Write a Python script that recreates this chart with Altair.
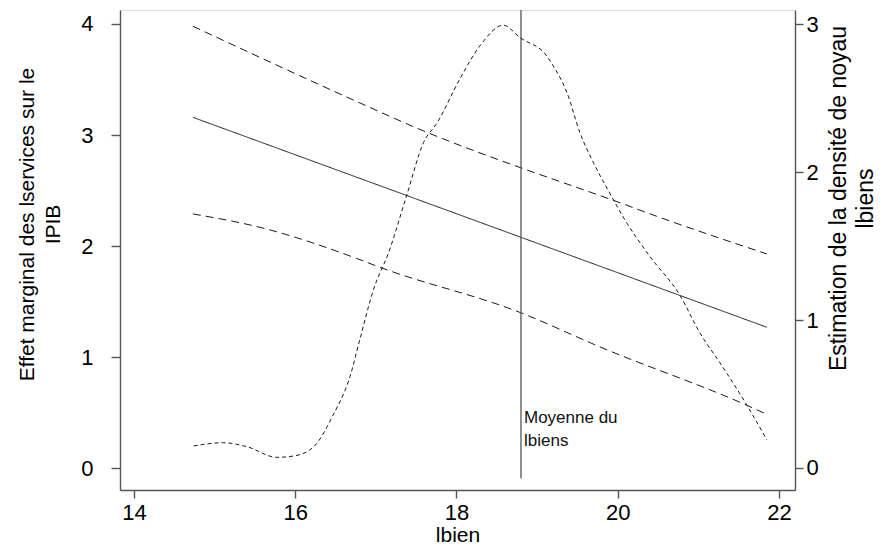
import altair as alt
import pandas as pd

# ---- data ----
fit_x = [14.73, 21.85]
fit_y = [3.16, 1.27]

upper_x = [14.73, 15.56, 16.80, 17.55, 18.80, 19.29, 19.94, 20.48, 21.85]
upper_y = [3.98, 3.70, 3.29, 3.05, 2.705, 2.58, 2.414, 2.27, 1.93]

lower_x = [14.73, 15.56, 16.76, 17.05, 18.80, 19.78, 21.60, 21.85]
lower_y = [2.29, 2.17, 1.89, 1.81, 1.40, 1.093, 0.568, 0.486]

dens_x = [14.74, 15.11, 15.40, 15.77, 15.98, 16.23, 16.47, 16.68, 16.80, 16.97,
          17.16, 17.38, 17.59, 17.76, 18.04, 18.29, 18.58, 18.79, 19.12, 19.20,
          19.37, 19.53, 19.70, 19.90, 20.11, 20.40, 20.77, 21.02, 21.27, 21.60, 21.85]
dens_y = [0.149, 0.171, 0.144, 0.072, 0.081, 0.144, 0.359, 0.62, 0.867, 1.206,
          1.46, 1.84, 2.20, 2.335, 2.63, 2.855, 2.995, 2.91, 2.787, 2.72,
          2.54, 2.27, 2.064, 1.86, 1.66, 1.43, 1.17, 0.913, 0.71, 0.427, 0.19]

mean_x = 18.8
mean_label = "Moyenne du\nlbiens"
mean_label_y = 0.405
vline_y = [-0.09, 4.126]

x_ticks = [14, 16, 18, 20, 22]
left_ticks = [0, 1, 2, 3, 4]
right_ticks = [0, 1, 2, 3]

NB = "\u00a0"
left_title = ["Effet marginal des lservices sur le", "IPIB" + NB * 5]
right_title = ["Estimation de la densité de noyau", "lbiens" + NB * 13]

# ---- tables ----
lines_df = pd.concat([
    pd.DataFrame({"x": fit_x, "y": fit_y, "series": "fit"}),
    pd.DataFrame({"x": upper_x, "y": upper_y, "series": "upper"}),
    pd.DataFrame({"x": lower_x, "y": lower_y, "series": "lower"}),
], ignore_index=True)
dens_df = pd.DataFrame({"x": dens_x, "d": dens_y})
vline_df = pd.DataFrame({"x": [mean_x], "y": [vline_y[0]], "y2": [vline_y[1]]})
text_df = pd.DataFrame({"x": [mean_x], "y": [mean_label_y], "label": [mean_label]})

AX = "#555555"
FONT = "Liberation Sans"

x_enc = alt.X("x:Q",
              scale=alt.Scale(domain=[13.826, 22.199], nice=False, zero=False),
              axis=alt.Axis(values=x_ticks, title="lbien", format="d",
                            tickSize=8, tickWidth=1.4, tickColor=AX,
                            domainColor=AX, domainWidth=1.4,
                            labelFontSize=22, labelPadding=4.5, labelFlush=False,
                            labelColor="black", titleColor="black",
                            titleFontSize=21, titleFontWeight="normal",
                            titleBaseline="alphabetic", titleY=51.5,
                            grid=False))

y_left = alt.Y("y:Q",
               scale=alt.Scale(domain=[-0.195, 4.126], nice=False, zero=False),
               axis=alt.Axis(values=left_ticks, title=left_title, format="d",
                             tickSize=9, tickWidth=1.4, tickColor=AX,
                             domainColor=AX, domainWidth=1.4,
                             labelFontSize=22, labelPadding=18, labelFlush=False,
                             labelColor="black", titleColor="black",
                             titleFontSize=21, titleFontWeight="normal",
                             titleAngle=270, titleAlign="center",
                             titleBaseline="alphabetic", titleLineHeight=26.5,
                             titleX=-87, titleY=214, grid=False))

y_right = alt.Y("d:Q",
                scale=alt.Scale(domain=[-0.149, 3.098], nice=False, zero=False),
                axis=alt.Axis(values=right_ticks, orient="right", title=right_title,
                              format="d",
                              tickSize=8, tickWidth=1.4, tickColor=AX,
                              domainColor=AX, domainWidth=1.4,
                              labelFontSize=22, labelPadding=3, labelFlush=False,
                              labelColor="black", titleColor="black",
                              titleFontSize=23, titleFontWeight="normal",
                              titleAngle=270, titleAlign="center",
                              titleBaseline="alphabetic", titleLineHeight=27,
                              titleX=50, titleY=188, grid=False))

lines = alt.Chart(lines_df).mark_line(interpolate="monotone", strokeWidth=1,
                                      color="#1a1a1a").encode(
    x=x_enc,
    y=y_left,
    detail="series:N",
    strokeDash=alt.StrokeDash("series:N",
                              scale=alt.Scale(domain=["fit", "upper", "lower"],
                                              range=[[1, 0], [8, 5], [8, 5]]),
                              legend=None),
)

vline = alt.Chart(vline_df).mark_rule(color="#555555", strokeWidth=1.3).encode(
    x=x_enc, y=y_left, y2="y2:Q")

label = alt.Chart(text_df).mark_text(align="left", baseline="alphabetic", dx=3,
                                     fontSize=17, lineHeight=22.6, lineBreak="\n",
                                     color="#111111", font=FONT).encode(
    x=x_enc, y=y_left, text="label:N")

left_layer = alt.layer(lines, vline, label)

density = alt.Chart(dens_df).mark_line(interpolate="monotone", strokeWidth=1,
                                       color="#1a1a1a", strokeDash=[4, 3]).encode(
    x=x_enc, y=y_right)

chart = alt.layer(left_layer, density).resolve_scale(y="independent").properties(
    width=675, height=480,
    autosize=alt.AutoSizeParams(type="none"),
    padding={"left": 112, "top": 2, "right": 82, "bottom": 56},
    background="white",
).configure_view(stroke=None).configure(font=FONT)

chart.save("out.html", embed_options={"renderer": "svg", "actions": False})
